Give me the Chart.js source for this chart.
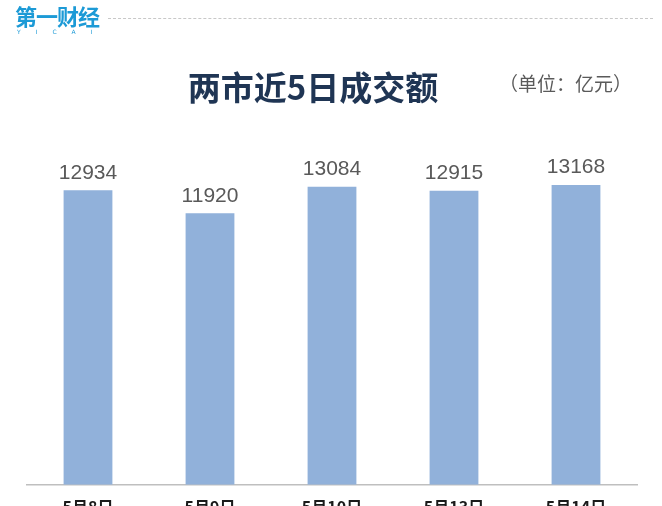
<!DOCTYPE html>
<html>
<head>
<meta charset="utf-8">
<script src="https://cdn.jsdelivr.net/npm/chart.js@4/dist/chart.umd.min.js"></script>
<style>
  html, body { margin: 0; padding: 0; background: #fff; overflow: hidden; }
  #wrap { position: relative; width: 662px; height: 506px; overflow: hidden; }
  #chart { position: absolute; left: 0; top: 0; }
  .logo { position: absolute; left: 15px; top: -1px; color: #1c9ad6; font: bold 22px "Noto Sans CJK SC"; letter-spacing: -1px; }
  .logo-sub { position: absolute; left: 17px; top: 28px; color: #1c9ad6; font: 6px "DejaVu Sans"; letter-spacing: 15px; }
  .dash { position: absolute; left: 108px; top: 18px; width: 545px; border-top: 1px dashed #c8c8c8; }
  .title { position: absolute; left: 0; width: 626px; top: 62px; text-align: center; color: #1f3554; font: bold 33px "Noto Sans CJK SC"; }
  .unit { position: absolute; left: 499px; top: 69px; color: #5a5a5a; font: 19px "Noto Sans CJK SC"; }
</style>
</head>
<body>
<div id="wrap">
  <canvas id="chart" width="662" height="530"></canvas>
  <div class="logo">第一财经</div>
  <div class="logo-sub">YICAI</div>
  <div class="dash"></div>
  <div class="title">两市近5日成交额</div>
  <div class="unit">（单位：亿元）</div>
</div>
<script>
// =========================
// DATA
// =========================
const dates = ["5月8日", "5月9日", "5月10日", "5月13日", "5月14日"];
const turnover = [12934, 11920, 13084, 12915, 13168];

// value labels above bars
const barLabels = {
    id: "barLabels",
    afterDatasetsDraw(chart) {
        const ctx = chart.ctx;
        const meta = chart.getDatasetMeta(0);
        ctx.save();
        ctx.font = '21px "Liberation Sans"';
        ctx.fillStyle = "#595959";
        ctx.textAlign = "center";
        ctx.textBaseline = "bottom";
        meta.data.forEach((bar, i) => {
            ctx.fillText(turnover[i], bar.x, bar.y - 7);
        });
        ctx.restore();
    }
};

new Chart(document.getElementById("chart"), {
    type: "bar",
    data: {
        labels: dates,
        datasets: [{
            data: turnover,
            backgroundColor: "#91b1da",
            barPercentage: 0.4,
            categoryPercentage: 1
        }]
    },
    options: {
        responsive: false,
        animation: false,
        layout: { padding: { top: 166, left: 27, right: 25, bottom: 0 } },
        plugins: {
            legend: { display: false },
            tooltip: { enabled: false }
        },
        scales: {
            x: {
                grid: { display: false, drawTicks: false },
                border: { color: "#bfbfbf", width: 1.5 },
                ticks: {
                    padding: 13,
                    color: "#1a1a1a",
                    font: { family: "Noto Sans CJK SC", size: 16, weight: "bold" }
                }
            },
            y: {
                display: false,
                min: 0,
                max: 14000
            }
        }
    },
    plugins: [barLabels]
});
</script>
</body>
</html>
